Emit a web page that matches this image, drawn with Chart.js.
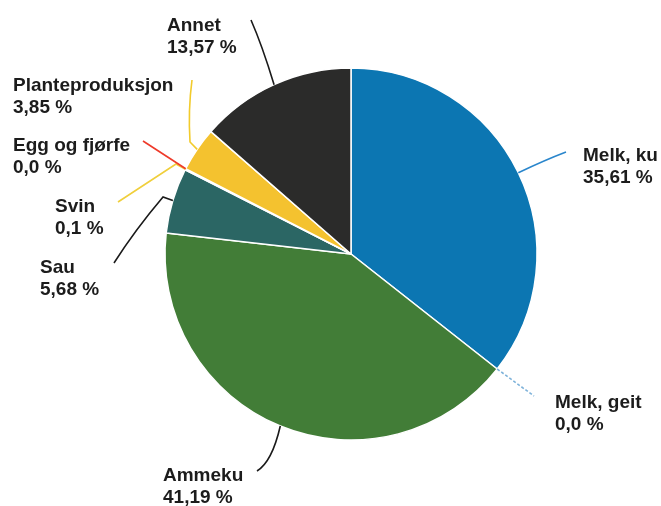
<!DOCTYPE html>
<html><head><meta charset="utf-8">
<script src="https://cdn.jsdelivr.net/npm/chart.js@4/dist/chart.umd.min.js"></script>
<style>html,body{margin:0;padding:0;background:#fff;overflow:hidden}#wrap{width:661px;height:506px}</style>
</head><body><div id="wrap"><canvas id="c" width="661" height="506"></canvas></div>
<script>
const categories = ['Melk, ku', 'Melk, geit', 'Ammeku', 'Sau', 'Svin', 'Egg og fjørfe', 'Planteproduksjon', 'Annet'];
const shares = [35.61, 0.0, 41.19, 5.68, 0.1, 0.0, 3.85, 13.57];
const sliceColors = ['#0c76b2', '#7cb9e4', '#427d37', '#2b6664', '#f3d35a', '#e8372b', '#f4c22f', '#2b2b2a'];
const lineColors = ['#2a86cc', '#7fb3da', '#1a1a1a', '#1a1a1a', '#f0cf3c', '#ee3a2a', '#f2cb2c', '#1a1a1a'];

// label layout (positions only): text left/baseline and leader path after the slice edge point
const labelLayout = [
  { tx: 583, ty: 161, path: [['Q', 545, 160, 566, 152]] },
  { tx: 555, ty: 408, path: [['L', 534, 396]], dash: [3, 2] },
  { tx: 163, ty: 481, path: [['Q', 272, 462, 257, 471]] },
  { tx: 40,  ty: 273, path: [['L', 163, 197], ['Q', 135, 230, 114, 263]] },
  { tx: 55,  ty: 212, path: [['L', 176, 164], ['L', 118, 202]] },
  { tx: 13,  ty: 151, path: [['L', 143, 141]] },
  { tx: 13,  ty: 91,  path: [['L', 190, 142], ['Q', 188, 110, 192, 80]] },
  { tx: 167, ty: 31,  path: [['Q', 262, 45, 251, 20]] }
];

function fmt(v) {
  let s = String(v);
  if (s.indexOf('.') < 0) s += '.0';
  return s.replace('.', ',') + ' %';
}

const labelPlugin = {
  id: 'outerLabels',
  afterDatasetsDraw(chart) {
    const ctx = chart.ctx;
    const meta = chart.getDatasetMeta(0);
    meta.data.forEach((arc, i) => {
      const p = arc.getProps(['x', 'y', 'startAngle', 'endAngle', 'outerRadius'], true);
      const mid = (p.startAngle + p.endAngle) / 2;
      const sx = p.x + Math.cos(mid) * p.outerRadius;
      const sy = p.y + Math.sin(mid) * p.outerRadius;
      const L = labelLayout[i];
      ctx.save();
      ctx.strokeStyle = lineColors[i];
      ctx.lineWidth = 1.6;
      ctx.setLineDash(L.dash || []);
      ctx.beginPath();
      ctx.moveTo(sx, sy);
      L.path.forEach(seg => {
        if (seg[0] === 'L') ctx.lineTo(seg[1], seg[2]);
        else ctx.quadraticCurveTo(seg[1], seg[2], seg[3], seg[4]);
      });
      ctx.stroke();
      ctx.setLineDash([]);
      ctx.fillStyle = '#1c1c1c';
      ctx.font = 'bold 19px "Liberation Sans", Arial, sans-serif';
      ctx.textBaseline = 'alphabetic';
      ctx.textAlign = 'left';
      ctx.fillText(categories[i], L.tx, L.ty);
      ctx.fillText(fmt(shares[i]), L.tx, L.ty + 22);
      ctx.restore();
    });
  }
};

new Chart(document.getElementById('c'), {
  type: 'pie',
  data: {
    labels: categories,
    datasets: [{
      data: shares,
      backgroundColor: sliceColors,
      borderColor: '#ffffff',
      borderWidth: 1.5,
      radius: 186
    }]
  },
  options: {
    responsive: false,
    devicePixelRatio: 1,
    animation: false,
    layout: { padding: { left: 41, right: 0, top: 2, bottom: 0 } },
    plugins: { legend: { display: false }, tooltip: { enabled: false } }
  },
  plugins: [labelPlugin]
});
</script>
</body></html>
